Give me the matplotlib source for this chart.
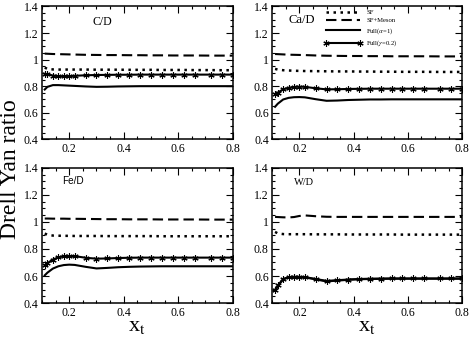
import matplotlib
matplotlib.use('Agg')
import matplotlib.pyplot as plt
from matplotlib.ticker import MultipleLocator, FormatStrFormatter

## Style
plt.rcParams['font.family'] = ['Liberation Serif', 'DejaVu Serif']
plt.rcParams['mathtext.fontset'] = 'stix'

################################################################################
## Data

XT = [0.11, 0.12, 0.14, 0.16, 0.18, 0.20, 0.22, 0.26, 0.30, 0.34, 0.38,
      0.42, 0.46, 0.50, 0.54, 0.58, 0.62, 0.66, 0.72, 0.76, 0.80]

## C/D
SF_C = [0.94, 0.93, 0.926, 0.925, 0.925, 0.925, 0.925, 0.925, 0.924, 0.924, 0.924,
        0.923, 0.923, 0.923, 0.922, 0.922, 0.922, 0.921, 0.921, 0.920, 0.920]
MESON_C = [1.045, 1.044, 1.042, 1.041, 1.040, 1.039, 1.038, 1.036, 1.035, 1.034, 1.034,
           1.033, 1.033, 1.032, 1.032, 1.031, 1.031, 1.031, 1.030, 1.030, 1.030]
FULL_C = [0.775, 0.795, 0.808, 0.808, 0.806, 0.804, 0.802, 0.798, 0.795, 0.796, 0.798,
          0.799, 0.800, 0.800, 0.800, 0.800, 0.800, 0.800, 0.800, 0.800, 0.800]
GAMMA_C = [0.892, 0.888, 0.880, 0.875, 0.874, 0.876, 0.878, 0.882, 0.884, 0.885, 0.886,
           0.886, 0.887, 0.887, 0.887, 0.887, 0.887, 0.887, 0.887, 0.887, 0.887]

## Ca/D
SF_CA = [0.93, 0.925, 0.92, 0.918, 0.916, 0.915, 0.914, 0.913, 0.912, 0.911, 0.911,
         0.910, 0.910, 0.909, 0.909, 0.908, 0.908, 0.908, 0.907, 0.907, 0.907]
MESON_CA = [1.042, 1.041, 1.039, 1.037, 1.036, 1.035, 1.034, 1.031, 1.029, 1.028, 1.027,
            1.027, 1.026, 1.026, 1.025, 1.025, 1.025, 1.025, 1.024, 1.024, 1.024]
FULL_CA = [0.645, 0.668, 0.700, 0.712, 0.717, 0.718, 0.716, 0.702, 0.690, 0.692, 0.696,
           0.698, 0.700, 0.700, 0.701, 0.701, 0.701, 0.701, 0.701, 0.701, 0.701]
GAMMA_CA = [0.740, 0.752, 0.776, 0.788, 0.794, 0.796, 0.795, 0.784, 0.776, 0.777, 0.779,
            0.780, 0.781, 0.781, 0.781, 0.781, 0.781, 0.781, 0.781, 0.781, 0.781]

## Fe/D
SF_FE = [0.914, 0.905, 0.899, 0.898, 0.897, 0.897, 0.896, 0.896, 0.896, 0.895, 0.895,
         0.895, 0.895, 0.895, 0.894, 0.894, 0.894, 0.894, 0.894, 0.894, 0.894]
MESON_FE = [1.025, 1.025, 1.024, 1.024, 1.024, 1.023, 1.023, 1.022, 1.021, 1.020, 1.020,
            1.019, 1.019, 1.019, 1.018, 1.018, 1.018, 1.018, 1.017, 1.017, 1.017]
FULL_FE = [0.605, 0.625, 0.655, 0.672, 0.681, 0.684, 0.682, 0.668, 0.656, 0.660, 0.665,
           0.668, 0.670, 0.671, 0.672, 0.672, 0.672, 0.672, 0.672, 0.672, 0.672]
GAMMA_FE = [0.678, 0.695, 0.722, 0.738, 0.746, 0.748, 0.747, 0.735, 0.728, 0.730, 0.733,
            0.735, 0.736, 0.736, 0.736, 0.736, 0.736, 0.736, 0.736, 0.736, 0.736]

## W/D
SF_W = [0.926, 0.915, 0.910, 0.909, 0.909, 0.909, 0.909, 0.908, 0.908, 0.908, 0.907,
        0.907, 0.907, 0.907, 0.907, 0.906, 0.906, 0.906, 0.906, 0.906, 0.906]
MESON_W = [1.037, 1.036, 1.034, 1.033, 1.036, 1.044, 1.048, 1.042, 1.038, 1.037, 1.037,
           1.037, 1.037, 1.037, 1.037, 1.037, 1.037, 1.037, 1.037, 1.037, 1.037]
FULL_W = [0.492, 0.525, 0.575, 0.590, 0.592, 0.592, 0.590, 0.575, 0.560, 0.566, 0.572,
          0.576, 0.578, 0.579, 0.580, 0.580, 0.580, 0.580, 0.580, 0.580, 0.580]
GAMMA_W = [0.498, 0.530, 0.578, 0.592, 0.594, 0.594, 0.592, 0.578, 0.564, 0.569, 0.574,
           0.578, 0.580, 0.581, 0.582, 0.582, 0.582, 0.582, 0.582, 0.582, 0.582]

LEGEND_LABELS = ['SF', 'SF+Meson', r'Full($\alpha$=1)', r'Full($\gamma$=0.2)']

################################################################################
## Figure

fig = plt.figure(figsize=(4.72, 3.39), dpi=100)

## [left, bottom, width, height] in figure fraction, per panel
PANELS = [
  dict(name='C/D', rect=[0.089, 0.589, 0.404, 0.392], sf=SF_C, meson=MESON_C, full=FULL_C, gamma=GAMMA_C,
       tx=0.265, ty=0.88, tfont=dict(family='Liberation Serif', size=8.5)),
  dict(name='Ca/D', rect=[0.577, 0.589, 0.402, 0.392], sf=SF_CA, meson=MESON_CA, full=FULL_CA, gamma=GAMMA_CA,
       tx=0.085, ty=0.895, tfont=dict(family='Liberation Serif', size=9)),
  dict(name='Fe/D', rect=[0.089, 0.106, 0.404, 0.399], sf=SF_FE, meson=MESON_FE, full=FULL_FE, gamma=GAMMA_FE,
       tx=0.105, ty=0.905, tfont=dict(family='Liberation Sans', size=7.2)),
  dict(name='W/D', rect=[0.577, 0.106, 0.402, 0.399], sf=SF_W, meson=MESON_W, full=FULL_W, gamma=GAMMA_W,
       tx=0.115, ty=0.895, tfont=dict(family='Liberation Serif', size=7.5)),
]

for i, p in enumerate(PANELS):
  ax = fig.add_axes(p['rect'])
  h_sf, = ax.plot(XT, p['sf'], color='black', lw=1.8, linestyle=(0, (1, 1.8)))
  h_me, = ax.plot(XT, p['meson'], color='black', lw=1.5, linestyle=(0, (5, 2.4)))
  h_fu, = ax.plot(XT, p['full'], color='black', lw=1.5)
  h_ga, = ax.plot(XT, p['gamma'], color='black', lw=1.5, marker=(6, 2, 0), ms=4.5, mew=0.8)

  ax.set_xlim(0.1, 0.8)
  ax.set_ylim(0.4, 1.4)
  ax.xaxis.set_major_locator(MultipleLocator(0.2))
  ax.xaxis.set_minor_locator(MultipleLocator(0.05))
  ax.yaxis.set_major_locator(MultipleLocator(0.2))
  ax.yaxis.set_minor_locator(MultipleLocator(0.05))
  ax.xaxis.set_major_formatter(FormatStrFormatter('%g'))
  ax.yaxis.set_major_formatter(FormatStrFormatter('%g'))
  ax.tick_params(which='both', direction='in', top=True, right=True, labelsize=8.5, pad=2.5)
  ax.tick_params(which='major', length=5, width=0.8)
  ax.tick_params(which='minor', length=2.5, width=0.8)
  for s in ax.spines.values():
    s.set_linewidth(1.1)

  ax.text(p['tx'], p['ty'], p['name'], transform=ax.transAxes, ha='left', va='center', **p['tfont'])

  ## Legend only in the Ca/D panel
  if i == 1:
    ax.legend([h_sf, h_me, h_fu, h_ga], LEGEND_LABELS, loc='upper left', bbox_to_anchor=(0.255, 1.0),
              frameon=False, fontsize=4.8, handlelength=5.8, handletextpad=0.6, labelspacing=0.4,
              borderaxespad=0.2, borderpad=0.25, numpoints=2)
  if i >= 2:
    ax.set_xlabel(r'x$_{\rm t}$', fontsize=16, labelpad=-1)

fig.text(0.022, 0.5, 'Drell Yan ratio', rotation=90, ha='center', va='center', fontsize=17)

fig.savefig('out.png', dpi=100)
